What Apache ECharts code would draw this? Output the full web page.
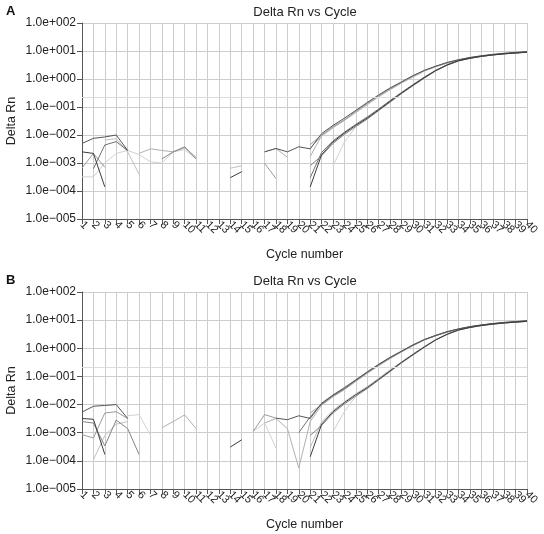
<!DOCTYPE html>
<html>
<head>
<meta charset="utf-8">
<script src="https://cdn.jsdelivr.net/npm/echarts@6/dist/echarts.min.js"></script>
<style>
  html, body { margin: 0; padding: 0; background: #fff; }
  #main { width: 544px; height: 534px; }
</style>
</head>
<body>
<div id="main"></div>
<script>
// cycle labels on the x axis
var cycles = ['1','2','3','4','5','6','7','8','9','10','11','12','13','14','15','16','17','18','19','20',
  '21','22','23','24','25','26','27','28','29','30','31','32','33','34','35','36','37','38','39','40'];

var _ = null;

// panel A, one array per well (Delta Rn per cycle, null = not plotted)
var a1 = [0.005,0.0076,0.0085,0.01,0.0028,_,_,_,_,_,_,_,_,_,_,_,0.0025,0.0033,0.0025,0.0038,
  0.0032,0.0112,0.022,0.04,0.076,0.145,0.27,0.48,0.79,1.32,2.04,2.88,3.9,4.9,5.9,6.76,7.6,8.3,8.9,9.5];
var a2 = [0.0025,0.0022,0.00014,_,_,_,_,_,_,_,_,_,_,0.0003,0.00049,_,_,_,_,_,
  0.00014,0.002,0.0056,0.0117,0.0224,0.04,0.079,0.158,0.316,0.6,1.12,2.0,3.16,4.47,5.5,6.46,7.24,7.94,8.5,9.1];
var a3 = [0.00066,0.0022,0.0007,_,_,_,_,_,_,_,_,_,_,_,_,_,0.00098,0.00028,_,_,
  0.0045,0.010,0.020,0.035,0.071,0.135,0.25,0.45,0.76,1.26,2.0,2.8,3.8,4.8,5.75,6.6,7.4,8.1,8.7,9.3];
var a4 = [_,0.00063,0.0044,0.0058,0.0028,_,_,_,_,_,_,_,_,_,_,_,_,_,_,_,
  0.0003,0.0024,0.0062,0.0126,0.024,0.044,0.085,0.17,0.33,0.63,1.17,2.05,3.25,4.55,5.6,6.55,7.3,8.0,8.6,9.2];
var a5 = [_,_,0.0066,0.0074,0.0025,0.0004,_,_,_,_,_,_,_,0.00065,0.0008,_,_,_,_,_,
  0.0035,0.0089,0.018,0.033,0.063,0.12,0.23,0.41,0.71,1.17,1.9,2.75,3.7,4.7,5.6,6.45,7.25,7.95,8.5,9.1];
var a6 = [0.00032,0.00032,0.001,0.0022,0.0028,0.002,0.0011,0.001,0.0025,0.003,0.0014,_,_,_,_,_,_,_,_,_,
  _,_,0.0008,0.0056,0.02,0.039,0.078,0.155,0.31,0.59,1.1,1.98,3.15,4.45,5.5,6.45,7.2,7.9,8.5,9.05];
var a7 = [_,_,_,_,_,0.0022,0.0032,0.0028,0.0025,0.0035,0.0016,_,_,_,_,_,0.0025,0.0033,0.0016,_,
  0.0017,0.0095,0.019,0.034,0.066,0.128,0.24,0.43,0.74,1.22,1.95,2.78,3.75,4.75,5.7,6.5,7.3,8.0,8.6,9.2];
var a8 = [_,_,_,_,_,_,_,0.0014,0.0025,0.0038,0.0014,_,_,_,_,_,_,_,_,_,
  0.0008,0.0018,0.005,0.0105,0.02,0.037,0.074,0.148,0.3,0.57,1.07,1.95,3.1,4.4,5.45,6.4,7.2,7.9,8.45,9.0];

// panel B
var b1 = [0.0054,0.0087,0.0093,0.01,0.0032,_,_,_,_,_,_,_,_,_,_,_,_,0.0033,0.0029,0.004,
  0.0032,0.0112,0.022,0.04,0.076,0.145,0.27,0.48,0.79,1.32,2.04,2.88,3.9,4.9,5.9,6.76,7.6,8.3,8.9,9.5];
var b2 = [0.0032,0.003,0.00017,_,_,_,_,_,_,_,_,_,_,0.00031,0.00056,_,_,_,_,_,
  0.00014,0.002,0.0056,0.0117,0.0224,0.04,0.079,0.158,0.316,0.6,1.12,2.0,3.16,4.47,5.5,6.46,7.24,7.94,8.5,9.1];
var b3 = [0.00085,0.00065,0.005,0.0056,0.0032,_,_,_,_,_,_,_,_,_,_,0.0011,0.0044,0.0033,_,_,
  0.005,0.010,0.020,0.035,0.071,0.135,0.25,0.45,0.76,1.26,2.0,2.8,3.8,4.8,5.75,6.6,7.4,8.1,8.7,9.3];
var b4 = [_,0.00011,0.0008,0.002,0.0025,_,_,_,_,_,_,_,_,_,_,_,_,_,_,_,
  0.0003,0.0024,0.0062,0.0126,0.024,0.044,0.085,0.17,0.33,0.63,1.17,2.05,3.25,4.55,5.6,6.55,7.3,8.0,8.6,9.2];
var b5 = [0.0025,0.0022,0.00034,0.0028,0.0014,0.00017,_,_,_,_,_,_,_,_,_,_,_,_,_,_,
  0.0008,0.0018,0.005,0.0105,0.02,0.037,0.074,0.148,0.3,0.57,1.07,1.95,3.1,4.4,5.45,6.4,7.2,7.9,8.45,9.0];
var b6 = [_,_,_,_,0.004,0.0044,0.00083,_,_,_,_,_,_,_,_,0.0011,0.0022,0.00029,_,_,
  _,_,0.0011,0.0056,0.02,0.039,0.078,0.155,0.31,0.59,1.1,1.98,3.15,4.45,5.5,6.45,7.2,7.9,8.5,9.05];
var b7 = [_,_,_,_,_,_,_,0.0015,0.0025,0.0043,0.0014,_,_,_,_,_,0.0022,0.0032,0.0014,0.000056,
  0.0025,0.0095,0.019,0.034,0.066,0.128,0.24,0.43,0.74,1.22,1.95,2.78,3.75,4.75,5.7,6.5,7.3,8.0,8.6,9.2];
var b8 = [_,_,_,_,_,_,_,_,_,_,_,_,_,_,_,_,_,_,_,0.001,
  0.0037,0.0105,0.021,0.037,0.073,0.14,0.26,0.46,0.78,1.3,2.02,2.85,3.85,4.85,5.8,6.7,7.5,8.2,8.8,9.4];

var threshold = 0.22;

var panelA = [a6, a5, a7, a3, a8, a4, a1, a2];
var panelB = [b6, b4, b7, b3, b5, b8, b1, b2];
var greys = ['#d2d2d2', '#c0c0c0', '#b0b0b0', '#9c9c9c', '#858585', '#717171', '#555555', '#3c3c3c'];

var font = "'Liberation Sans', Arial, sans-serif";

function logLabel(v) {
  var e = Math.round(Math.log10(v));
  var s = String(Math.abs(e));
  while (s.length < 3) s = '0' + s;
  return '1.0e' + (e < 0 ? '\u2212' : '+') + s;
}

function xAxisFor(idx) {
  return {
    type: 'category', gridIndex: idx, data: cycles, boundaryGap: false,
    axisLine: { lineStyle: { color: '#555', width: 1 } },
    axisTick: { show: true, interval: 0, length: 5, lineStyle: { color: '#555' } },
    axisLabel: { interval: 0, rotate: -45, fontSize: 11, color: '#222', margin: 4, fontFamily: font },
    splitLine: { show: true, interval: 0, lineStyle: { color: '#cdcdcd', width: 1 } },
    name: 'Cycle number', nameLocation: 'middle', nameGap: 29, nameMoveOverlap: false,
    nameTextStyle: { fontSize: 12.5, color: '#222', fontFamily: font }
  };
}

function yAxisFor(idx) {
  return {
    type: 'log', logBase: 10, gridIndex: idx, min: 0.00001, max: 100, splitNumber: 7,
    axisLine: { show: true, lineStyle: { color: '#555', width: 1 } },
    axisTick: { show: true, length: 5, lineStyle: { color: '#555' } },
    axisLabel: { formatter: logLabel, fontSize: 12, color: '#222', margin: 6, fontFamily: font },
    splitLine: { show: true, lineStyle: { color: '#cdcdcd', width: 1 } },
    name: 'Delta Rn', nameLocation: 'middle', nameGap: 64, nameMoveOverlap: false,
    nameTextStyle: { fontSize: 12.5, color: '#222', fontFamily: font }
  };
}

var series = [];
function addPanel(list, idx) {
  for (var i = 0; i < list.length; i++) {
    var s = {
      type: 'line', xAxisIndex: idx, yAxisIndex: idx, data: list[i],
      showSymbol: false, symbol: 'none', connectNulls: false, silent: true,
      lineStyle: { color: greys[i], width: 1 }
    };
    if (i == 0) {
      s.markLine = {
        silent: true, symbol: 'none', label: { show: false },
        lineStyle: { color: '#dcdcdc', type: 'solid', width: 1 },
        data: [{ yAxis: threshold }]
      };
    }
    series.push(s);
  }
}
addPanel(panelA, 0);
addPanel(panelB, 1);

var myChart = echarts.init(document.getElementById('main'));
var option = {
  animation: false,
  backgroundColor: '#fff',
  textStyle: { fontFamily: font },
  grid: [
    { left: 82, top: 23, width: 445, height: 196, outerBoundsMode: 'none' },
    { left: 82, top: 292, width: 445, height: 197, outerBoundsMode: 'none' }
  ],
  xAxis: [xAxisFor(0), xAxisFor(1)],
  yAxis: [yAxisFor(0), yAxisFor(1)],
  graphic: [
    { type: 'text', x: 6, y: 5, style: { text: 'A', font: 'bold 13px ' + font, fill: '#111' } },
    { type: 'text', x: 6, y: 274, style: { text: 'B', font: 'bold 13px ' + font, fill: '#111' } },
    { type: 'text', x: 305, y: 6, style: { text: 'Delta Rn vs Cycle', font: '13px ' + font, fill: '#222', textAlign: 'center' } },
    { type: 'text', x: 305, y: 275, style: { text: 'Delta Rn vs Cycle', font: '13px ' + font, fill: '#222', textAlign: 'center' } }
  ],
  series: series
};
myChart.setOption(option);
window.onresize = myChart.resize;
</script>
</body>
</html>
